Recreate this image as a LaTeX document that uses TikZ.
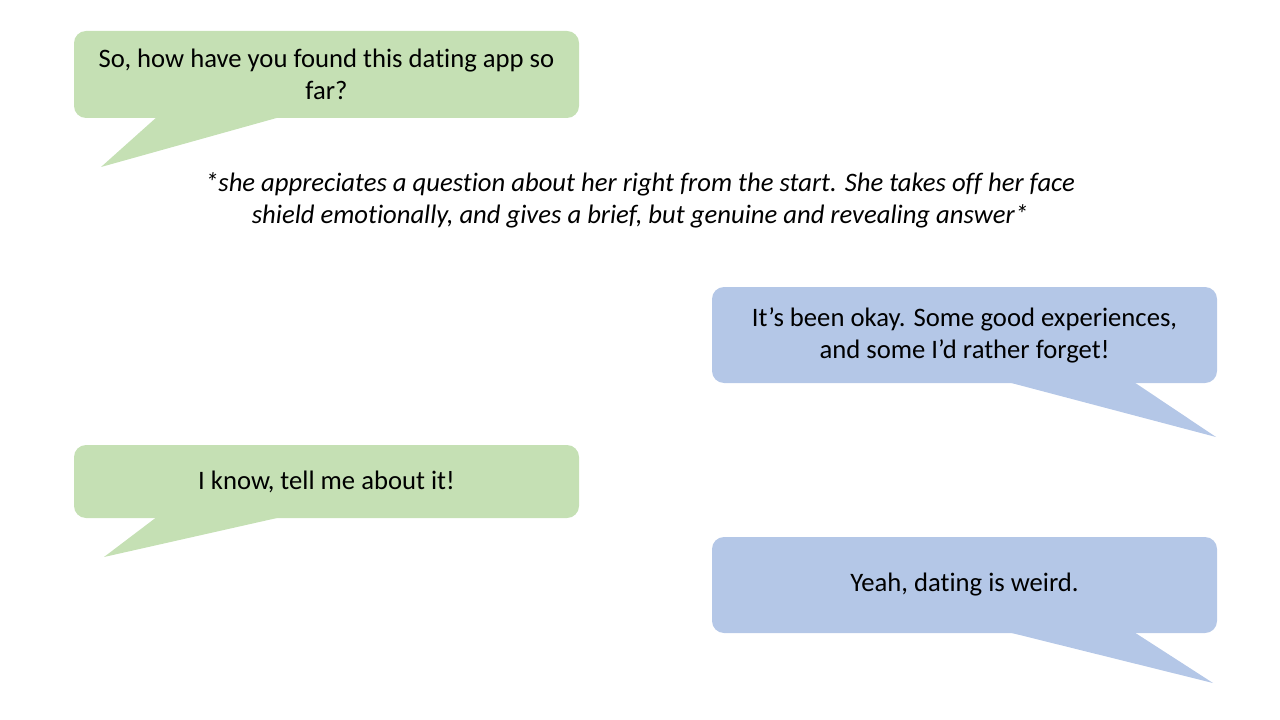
\documentclass[tikz,border=0pt]{standalone}
\usepackage{fontspec}
\setmainfont[Ligatures=NoCommon]{Carlito}
\usetikzlibrary{calc}
\definecolor{bgreen}{HTML}{C5E0B4}
\definecolor{bblue}{HTML}{B4C7E7}
\begin{document}
\begin{tikzpicture}[x=0.75pt,y=-0.75pt,
  bubble/.style={rounded corners=9pt, inner sep=0pt, minimum width=378.75pt, align=center, text=black, font=\fontsize{20}{24}\selectfont},
  greenbub/.style={bubble, fill=bgreen},
  bluebub/.style={bubble, fill=bblue},
  note/.style={align=center, font=\fontsize{20}{24}\selectfont\itshape}]
\useasboundingbox (0,0) rectangle (1280,720);
% bubble 1
\node[greenbub, minimum height=65.25pt] (b1) at (326.5,74.5) {So, how have you found this dating app so\\far?};
\coordinate (t1) at (101,167);
\fill[bgreen] ($(b1.south west)+(84,-2)$) -- (t1) -- ($(b1.south west)+(209,-2)$) -- cycle;
% note
\node[note] (n) at (640,200) {*she appreciates a question about her right from the start. She takes off her face\\shield emotionally, and gives a brief, but genuine and revealing answer*};
% bubble 2
\node[bluebub, minimum height=72pt] (b2) at (964.5,335) {It’s been okay. Some good experiences,\\and some I’d rather forget!};
\coordinate (t2) at (1216,437);
\fill[bblue] ($(b2.south west)+(293,-2)$) -- (t2) -- ($(b2.south west)+(421,-2)$) -- cycle;
% bubble 3
\node[greenbub, minimum height=54.75pt] (b3) at (326.5,481.5) {I know, tell me about it!};
\coordinate (t3) at (104,557);
\fill[bgreen] ($(b3.south west)+(84,-2)$) -- (t3) -- ($(b3.south west)+(211,-2)$) -- cycle;
% bubble 4
\node[bluebub, minimum height=72pt] (b4) at (964.5,585) {Yeah, dating is weird.};
\coordinate (t4) at (1213,683);
\fill[bblue] ($(b4.south west)+(293,-2)$) -- (t4) -- ($(b4.south west)+(421,-2)$) -- cycle;
\end{tikzpicture}
\end{document}
